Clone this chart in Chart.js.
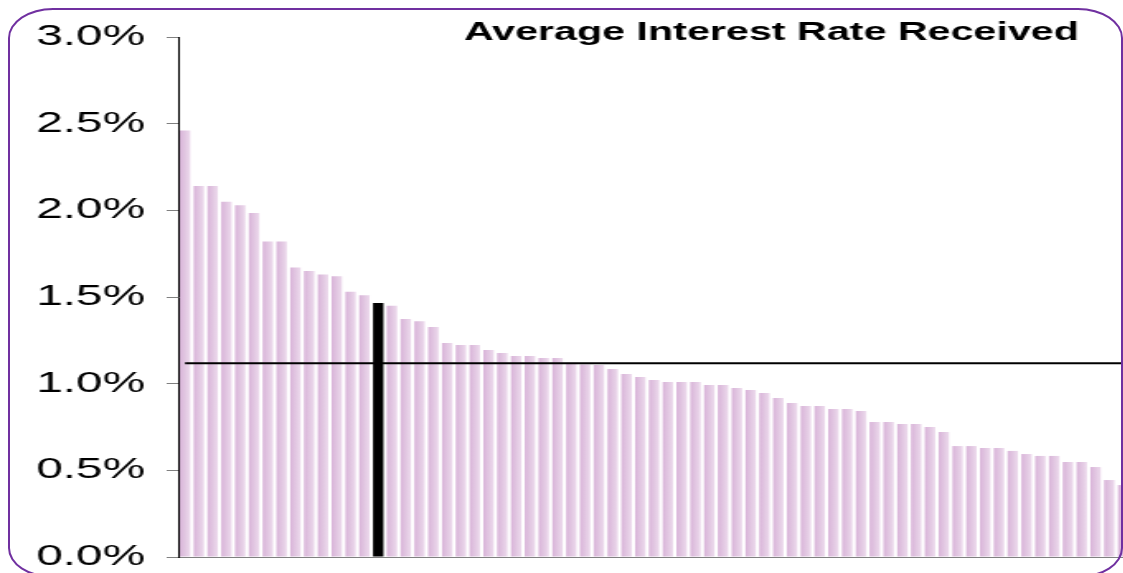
<!DOCTYPE html>
<html>
<head>
<meta charset="utf-8">
<script src="https://cdn.jsdelivr.net/npm/chart.js@4/dist/chart.umd.min.js"></script>
<style>
  html, body { margin: 0; padding: 0; background: #fff; overflow: hidden; }
  #wrap { position: relative; width: 1123px; height: 573px; overflow: hidden; }
  #myChart { position: absolute; left: 0; top: 0; width: 1135px; height: 573px; }
  #frame {
    position: absolute; left: 8px; top: 8px; width: 1115px; height: 570px;
    box-sizing: border-box; border: 2px solid #7030a0;
    border-radius: 45px / 30px; pointer-events: none;
  }
</style>
</head>
<body>
<div id="wrap">
  <canvas id="myChart" width="688" height="573" style="width:1135px;height:573px"></canvas>
  <div id="frame"></div>
</div>
<script>
const chartTitle = 'Average Interest Rate Received';

// average rate per institution, in percent, sorted high to low
const rates = [
  2.46, 2.14, 2.14, 2.05, 2.03, 1.985, 1.82, 1.82, 1.67, 1.65,
  1.63, 1.62, 1.53, 1.51, 1.466, 1.45, 1.373, 1.36, 1.327, 1.235,
  1.223, 1.223, 1.194, 1.177, 1.16, 1.16, 1.148, 1.148, 1.12, 1.11,
  1.108, 1.085, 1.056, 1.039, 1.021, 1.01, 1.01, 1.01, 0.992, 0.992,
  0.975, 0.964, 0.946, 0.917, 0.889, 0.871, 0.871, 0.854, 0.854, 0.842,
  0.779, 0.779, 0.767, 0.767, 0.75, 0.721, 0.64, 0.64, 0.629, 0.629,
  0.612, 0.594, 0.583, 0.583, 0.548, 0.548, 0.519, 0.444, 0.415
];
const institutions = rates.map((_, i) => i + 1);
const highlightIndex = 14;   // the black bar
const averageRate = 1.118;   // horizontal reference line
const yTicks = [0, 0.5, 1.0, 1.5, 2.0, 2.5, 3.0];

const barPct = 0.76;

const barColor = (ctx) => {
    if (ctx.dataIndex === highlightIndex) return '#000000';
    const chart = ctx.chart;
    const x = chart.scales.x;
    if (!chart.chartArea || !x) return '#e2c8e2';
    const cx = x.getPixelForValue(ctx.dataIndex);
    const half = (x.right - x.left) / rates.length * barPct / 2;
    const g = chart.ctx.createLinearGradient(cx - half, 0, cx + half, 0);
    g.addColorStop(0, '#d9b4d9');
    g.addColorStop(0.5, '#e2c7e2');
    g.addColorStop(1, '#eddbed');
    return g;
};

const titlePlugin = {
    id: 'cornerTitle',
    afterDraw(chart) {
        const c = chart.ctx;
        c.save();
        c.font = 'bold 25px "Liberation Sans", Arial, sans-serif';
        c.fillStyle = '#000';
        c.textAlign = 'center';
        c.textBaseline = 'alphabetic';
        c.fillText(chartTitle, 467.6, 40);
        c.restore();
    }
};

const data = {
    labels: institutions,
    datasets: [{
            type: 'line',
            label: 'Average',
            data: rates.map(() => averageRate),
            borderColor: '#000',
            borderWidth: 2,
            pointRadius: 0,
            fill: false,
            order: 0
        },
        {
            type: 'bar',
            label: 'Rate',
            data: rates,
            backgroundColor: barColor,
            borderWidth: 0,
            categoryPercentage: 1,
            barPercentage: barPct,
            order: 1
        }]
};

const config = {
    type: 'bar',
    data: data,
    options: {
        responsive: false,
        animation: false,
        layout: { padding: { top: 37, bottom: 16, left: 0, right: 3 } },
        plugins: {
            legend: { display: false },
            tooltip: { enabled: false }
        },
        scales: {
            x: {
                afterFit: (scale) => { scale.height = 0; },
                grid: { display: false, drawTicks: false },
                ticks: { display: false },
                border: { color: '#808080', width: 1 }
            },
            y: {
                min: 0,
                max: 3,
                afterFit: (scale) => {
                    scale.width = 108;
                    scale.paddingTop = 0;
                    scale.paddingBottom = 0;
                },
                afterBuildTicks: (scale) => { scale.ticks = yTicks.map(v => ({ value: v })); },
                ticks: {
                    padding: 13,
                    color: '#000',
                    font: { family: '"Liberation Sans", Arial, sans-serif', size: 29 },
                    callback: (v) => v.toFixed(1) + '%'
                },
                grid: {
                    drawOnChartArea: false,
                    tickLength: 7,
                    tickColor: '#808080'
                },
                border: { color: '#000', width: 1 }
            }
        }
    },
    plugins: [titlePlugin]
};

const myChart = new Chart(
    document.getElementById('myChart'),
    config
);
</script>
</body>
</html>
